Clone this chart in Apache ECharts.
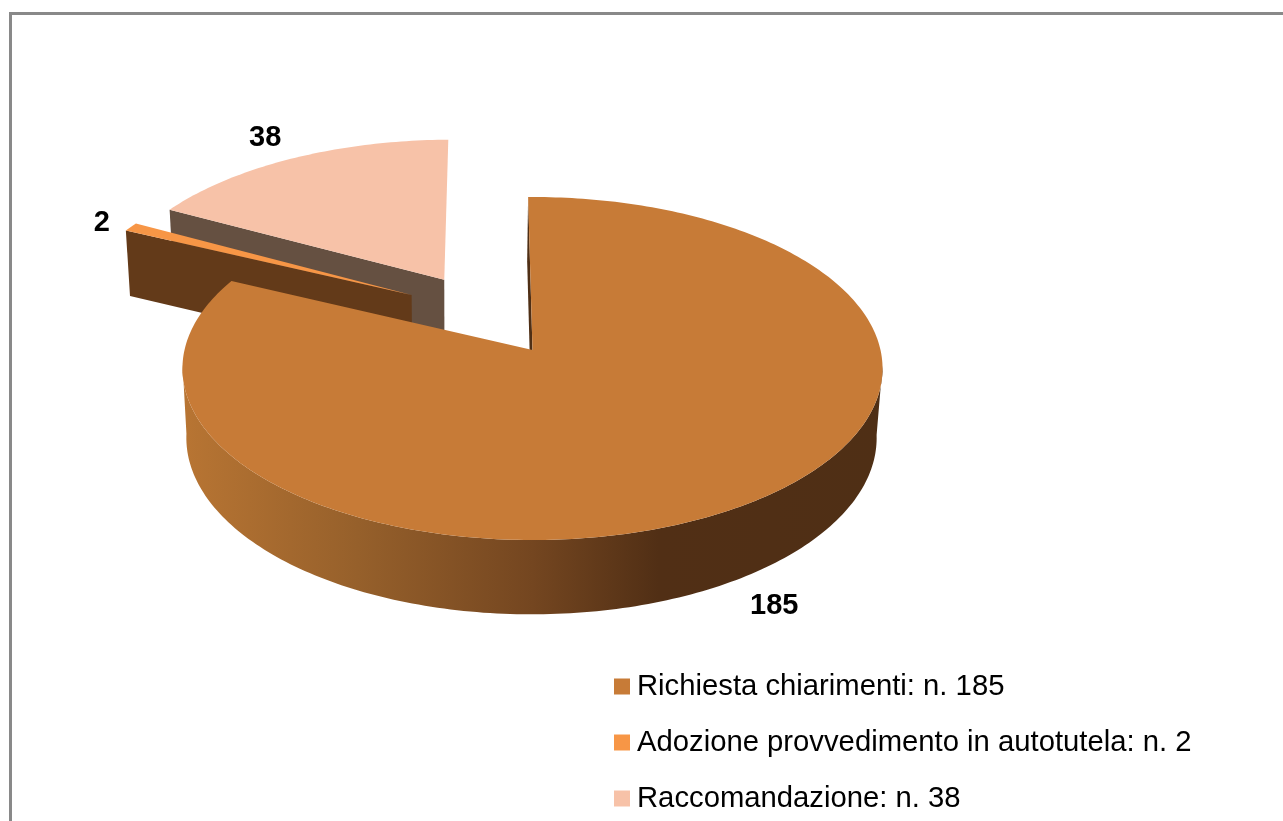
<!DOCTYPE html>
<html>
<head>
<meta charset="utf-8">
<title>Esiti istruttoria</title>
<style>
  html, body { margin: 0; padding: 0; background: #fff; }
  #chart { width: 1283px; height: 821px; }
</style>
<script src="https://cdn.jsdelivr.net/npm/echarts@6/dist/echarts.min.js"></script>
</head>
<body>
<div id="chart"></div>
<script>
// Data
const categories = ['Richiesta chiarimenti: n. 185', 'Adozione provvedimento in autotutela: n. 2', 'Raccomandazione: n. 38'];
const values = [185, 2, 38];

// Slice styling
const capColors = ['#C77B37', '#F79646', '#F7C2A8'];
const cutColors = ['#4F2F15', '#633A19', '#655041'];
const explodeAmount = [0, 0.493, 0.508];
const explodeBearing = [0, 313.1, 328.5];
const labelNudge = [[38.5, 26], [-29, -4], [-28, -20]];
const drawOrder = [2, 1, 0];

// Perspective camera for the tilted pie
const cam = { ax: 532.5, ay: 350, rx: 348, ry: 169.5, depth: 70, persp: 0.108, shrink: 0.014, skew: -1 };
const startBearing = -0.8;
const total = values.reduce((a, b) => a + b, 0);
const rad = d => d * Math.PI / 180;

function project(x, y, z) {
  const w = 1 + cam.persp * y + cam.shrink * z;
  return [cam.ax + cam.rx * x / w + cam.skew * z, cam.ay - cam.ry * y / w + cam.depth * z / w];
}

function sliceSpan(i) {
  const before = values.slice(0, i).reduce((a, b) => a + b, 0);
  const from = startBearing + before / total * 360;
  return [from, from + values[i] / total * 360];
}

function sliceOffset(i) {
  const b = rad(explodeBearing[i]);
  return [explodeAmount[i] * Math.sin(b), explodeAmount[i] * Math.cos(b)];
}

function rimPoint(i, bearing, z) {
  const o = sliceOffset(i);
  return project(o[0] + Math.sin(rad(bearing)), o[1] + Math.cos(rad(bearing)), z);
}

function rimBearings(i) {
  const s = sliceSpan(i), list = [];
  const n = Math.max(4, Math.ceil(s[1] - s[0]));
  for (let k = 0; k <= n; k++) list.push(s[0] + (s[1] - s[0]) * k / n);
  return list;
}

const wallGradient = {
  type: 'linear', x: 0, y: 0, x2: 1, y2: 0,
  colorStops: [
    { offset: 0, color: '#B87533' },
    { offset: 0.25, color: '#96602B' },
    { offset: 0.5, color: '#744620' },
    { offset: 0.68, color: '#512F15' },
    { offset: 1, color: '#4F2F15' }
  ]
};

// Each slice is drawn as camera-facing rim wall, leading cut face and top cap
function renderSlice(i, api) {
  const o = sliceOffset(i), s = sliceSpan(i);
  const apexTop = project(o[0], o[1], 0), apexBottom = project(o[0], o[1], 1);
  const poly = (points, fill) => ({ type: 'polygon', shape: { points }, style: { fill, stroke: null } });
  const bearings = rimBearings(i);
  const facing = bearings.filter(b => Math.cos(rad(b)) < -0.08);
  const children = [];
  if (facing.length) {
    const topEdge = facing.map(b => rimPoint(i, b, 0));
    const bottomEdge = facing.map(b => rimPoint(i, b, 1)).reverse();
    children.push(poly(topEdge.concat(bottomEdge), i === 0 ? wallGradient : cutColors[i]));
  }
  children.push(poly([apexTop, rimPoint(i, s[0], 0), rimPoint(i, s[0], 1), apexBottom], cutColors[i]));
  children.push(poly([apexTop].concat(bearings.map(b => rimPoint(i, b, 0))), capColors[i]));
  const anchor = rimPoint(i, (s[0] + s[1]) / 2, i === 0 ? 1 : 0);
  children.push({
    type: 'text',
    x: anchor[0] + labelNudge[i][0],
    y: anchor[1] + labelNudge[i][1],
    style: {
      text: String(api.value(0)),
      fill: '#000',
      font: 'bold 29px "Liberation Sans", Arial, sans-serif',
      align: 'center',
      verticalAlign: 'middle'
    }
  });
  return { type: 'group', children };
}

const chart = echarts.init(document.getElementById('chart'), null, { renderer: 'canvas' });

chart.setOption({
  animation: false,
  backgroundColor: '#ffffff',
  legend: {
    data: categories,
    orient: 'vertical',
    left: 614,
    top: 672,
    padding: 0,
    itemWidth: 16,
    itemHeight: 16,
    itemGap: 27,
    icon: 'rect',
    selectedMode: false,
    textStyle: { color: '#000', fontSize: 29.25, padding: [0, 0, 0, 2], fontFamily: '"Liberation Sans", Arial, sans-serif' }
  },
  graphic: [
    { type: 'line', shape: { x1: 10, y1: 13.5, x2: 1283, y2: 13.5 }, style: { stroke: '#898989', lineWidth: 3 } },
    { type: 'line', shape: { x1: 10.5, y1: 12, x2: 10.5, y2: 821 }, style: { stroke: '#898989', lineWidth: 3 } }
  ],
  series: drawOrder.map((i, order) => ({
    type: 'custom',
    name: categories[i],
    coordinateSystem: 'none',
    z: 2 + order,
    itemStyle: { color: capColors[i] },
    data: [[values[i]]],
    renderItem: (params, api) => renderSlice(i, api)
  }))
});
</script>
</body>
</html>
